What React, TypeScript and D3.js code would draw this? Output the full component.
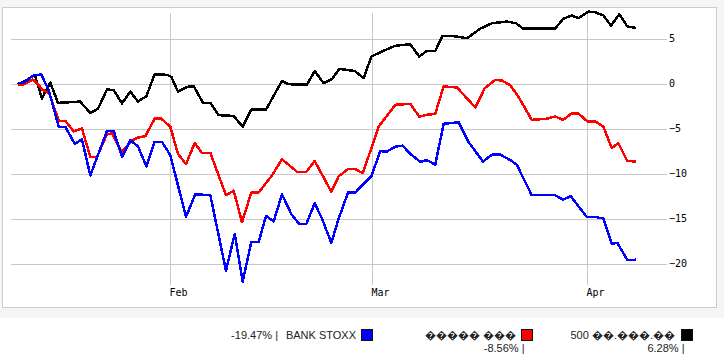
import React from "react";
import * as d3 from "d3";

// ---- data (day offsets from 2016-01-10, values in %) ----
const blackDays = [0.1,1.16,2.52,3.56,4.04,4.76,5.86,9.03,10.51,11.61,12.91,13.87,15.06,16.26,17.36,18.56,19.76,21.53,22.15,23.11,24.41,25.37,26.71,27.76,28.96,31.12,32.41,33.65,35.76,38.06,39.03,41.66,42.76,44.06,45.25,46.30,48.51,49.81,50.90,52.44,54.35,56.50,57.79,58.90,60.09,61.16,62.49,64.65,66.56,68.24,70.40,71.70,72.75,77.30,78.49,79.70,80.65,82.09,83.05,84.25,85.35,86.55,87.70,89.0];
const blackValues = [0,0.4,1.07,-1.56,-0.8,0.2,-2.04,-1.9,-3.15,-2.7,-0.55,-0.63,-2.1,-0.8,-1.9,-1.3,1.14,1.07,0.85,-0.8,-0.26,-0.19,-2.04,-2.04,-3.4,-3.5,-4.7,-2.8,-2.8,0.4,0.03,0,1.5,0.14,0.6,1.73,1.5,0.7,3.1,3.67,4.3,4.48,3.1,3.74,3.74,5.4,5.4,5.14,6.2,6.8,7.0,6.8,6.2,6.2,7.3,7.67,7.37,8.1,8.03,7.67,6.55,7.8,6.44,6.28];

const redDays = [0.1,0.93,2.23,2.99,3.56,4.61,5.97,6.91,8.12,9.31,10.51,11.47,12.91,13.63,15.06,16.50,17.36,18.41,19.76,20.71,22.01,23.11,24.26,25.51,26.56,27.76,30.01,31.12,32.31,33.65,34.71,36.63,38.06,40.22,41.56,42.76,45.15,46.21,47.55,48.60,49.66,50.90,51.96,54.35,56.50,57.79,58.90,60.09,61.30,63.22,65.85,67.20,68.72,69.69,70.88,72.03,73.96,76.11,77.30,78.49,79.70,80.65,81.95,83.05,84.25,85.46,86.41,87.70,89.0];
const redValues = [0,0,0.55,0.03,-0.55,-1.0,-4.04,-4.04,-5.2,-4.9,-8.04,-8.04,-5.5,-5.45,-7.5,-6.2,-5.9,-5.74,-3.8,-3.8,-4.7,-7.7,-8.86,-6.5,-7.6,-7.6,-12.3,-11.8,-15.3,-12.0,-12.0,-10.1,-8.3,-9.7,-9.7,-8.5,-11.9,-10.2,-9.4,-9.4,-9.86,-7.1,-4.67,-2.26,-2.15,-3.56,-3.37,-3.26,-0.22,-0.33,-2.55,-0.41,0.52,0.44,-0.1,-1.33,-3.93,-3.8,-3.56,-3.93,-3.2,-3.2,-4.1,-4.1,-4.67,-7.07,-6.5,-8.5,-8.56];

const blueDays = [0.1,0.93,2.37,3.46,4.53,5.97,6.91,8.27,9.31,10.51,12.91,13.87,15.06,16.26,17.36,18.56,19.76,20.81,22.01,24.26,25.60,27.76,30.01,31.26,32.41,33.65,34.71,35.76,36.87,38.06,39.40,40.55,41.56,42.76,43.81,45.15,46.21,47.55,48.60,50.90,52.19,53.15,54.35,55.41,56.50,57.94,58.90,60.09,61.30,63.45,64.89,66.95,68.24,69.44,70.88,71.80,73.96,77.30,78.49,79.55,81.86,83.30,84.25,85.46,86.27,87.70,89.0];
const blueValues = [0.15,0.18,1.03,1.1,-0.63,-4.7,-4.7,-6.6,-6.1,-10.1,-5.15,-5.15,-8.04,-6.2,-6.86,-9.1,-6.37,-6.37,-7.86,-14.7,-12.2,-12.3,-20.7,-16.6,-21.9,-17.5,-17.5,-14.6,-15.2,-12.2,-14.4,-15.5,-15.5,-13.2,-14.9,-17.6,-14.9,-12.0,-12.0,-10.2,-7.4,-7.45,-6.9,-6.8,-7.7,-8.6,-8.4,-8.9,-4.37,-4.2,-6.4,-8.56,-7.8,-7.8,-8.4,-8.9,-12.3,-12.3,-12.8,-12.4,-14.7,-14.75,-14.9,-17.7,-17.6,-19.5,-19.47];

const yTicks = [5, 0, -5, -10, -15, -20];
const monthTickDates = ["2016-02-01", "2016-03-01", "2016-04-01"];
const monthTickLabels = ["Feb", "Mar", "Apr"];

const seriesNames = [
  "BANK STOXX",
  "\uFFFD\uFFFD\uFFFD\uFFFD\uFFFD \uFFFD\uFFFD\uFFFD",
  "500 \uFFFD\uFFFD.\uFFFD\uFFFD\uFFFD.\uFFFD\uFFFD",
];
const seriesChanges = ["-19.47% |", "-8.56% |", "6.28% |"];
const seriesColors = ["#0000ff", "#ff0000", "#000000"];

const START = Date.UTC(2016, 0, 10);
const DAY = 86400000;
const toDate = (d: number) => new Date(START + d * DAY);

export default function App() {
  const x = d3.scaleUtc().domain([toDate(0), toDate(89)]).range([17.2, 17.2 + 89 * 6.957]);
  const y = d3.scaleLinear().domain([-20, 5]).range([264.5, 39.5]);

  const line = d3
    .line<[number, number]>()
    .x((p) => x(toDate(p[0])))
    .y((p) => y(p[1]));

  const zip = (a: number[], b: number[]) => a.map((d, i) => [d, b[i]] as [number, number]);
  const lines = [
    { pts: zip(blackDays, blackValues), color: seriesColors[2] },
    { pts: zip(redDays, redValues), color: seriesColors[1] },
    { pts: zip(blueDays, blueValues), color: seriesColors[0] },
  ];

  const fmt = (v: number) => (v < 0 ? "\u2212" + Math.abs(v) : String(v));
  const legendFont = "'Liberation Sans', Arial, sans-serif";

  return (
    <div style={{ position: "absolute", left: 0, top: 0 }}>
      <svg width={724} height={364} style={{ display: "block" }}>
        <rect x={0} y={0} width={724} height={364} fill="#ffffff" />
        <rect x={0} y={0} width={724} height={318} fill="#f5f5f5" />
        <rect x={2.5} y={7.5} width={714} height={300} fill="#ffffff" stroke="#cccccc" />
        {yTicks.map((t) => (
          <g key={t}>
            <line x1={11} x2={667} y1={y(t)} y2={y(t)} stroke="#c8c8c8" strokeWidth={1} />
            <text
              x={669}
              y={y(t) + 2}
              fontFamily="'DejaVu Sans Mono', monospace"
              fontSize={10}
              fill="#000"
            >
              {fmt(t)}
            </text>
          </g>
        ))}
        {monthTickDates.map((s, i) => {
          const px = Math.floor(x(new Date(s + "T00:00:00Z"))) + 0.5;
          return (
            <g key={s}>
              <line x1={px} x2={px} y1={13} y2={285} stroke="#c8c8c8" strokeWidth={1} />
              <text
                x={px - 1}
                y={296}
                fontFamily="'DejaVu Sans Mono', monospace"
                fontSize={10}
                fill="#000"
              >
                {monthTickLabels[i]}
              </text>
            </g>
          );
        })}
        {lines.map((l, i) => (
          <path
            key={i}
            d={line(l.pts) || ""}
            fill="none"
            stroke={l.color}
            strokeWidth={2.5}
            strokeLinejoin="round"
            shapeRendering="crispEdges"
          />
        ))}
        {/* legend */}
        <g fontFamily={legendFont} fontSize={11} fill="#222">
          <text x={278} y={339} textAnchor="end">{seriesChanges[0]}</text>
          <text x={356} y={339} textAnchor="end">{seriesNames[0]}</text>
          <rect x={361.5} y={329.5} width={11} height={11} fill={seriesColors[0]} stroke="#111" />

          <text x={516} y={339} textAnchor="end">{seriesNames[1]}</text>
          <text x={524.5} y={352} textAnchor="end">{seriesChanges[1]}</text>
          <rect x={521.5} y={329.5} width={11} height={11} fill={seriesColors[1]} stroke="#111" />

          <text x={675} y={339} textAnchor="end">{seriesNames[2]}</text>
          <text x={684.5} y={352} textAnchor="end">{seriesChanges[2]}</text>
          <rect x={681.5} y={329.5} width={11} height={11} fill={seriesColors[2]} stroke="#111" />
        </g>
      </svg>
    </div>
  );
}
